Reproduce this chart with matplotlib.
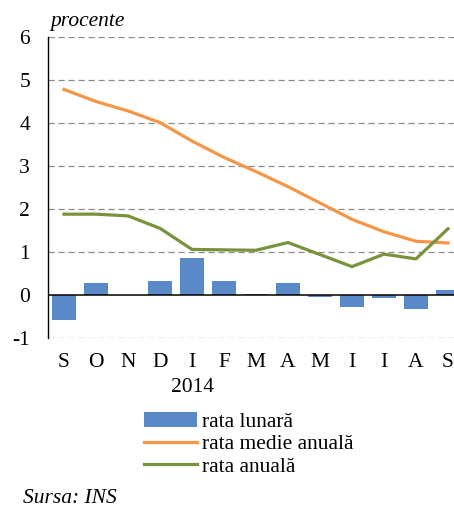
import matplotlib
matplotlib.use("Agg")
import matplotlib.pyplot as plt
from matplotlib.patches import Patch
from matplotlib.lines import Line2D

# Data
months = ['S', 'O', 'N', 'D', 'I', 'F', 'M', 'A', 'M', 'I', 'I', 'A', 'S']
rata_lunara = [-0.58, 0.29, 0.0, 0.33, 0.85, 0.33, 0.03, 0.27, -0.04, -0.28, -0.06, -0.32, 0.12]
rata_medie_anuala = [4.78, 4.50, 4.28, 4.01, 3.58, 3.20, 2.87, 2.52, 2.14, 1.76, 1.47, 1.25, 1.21]
rata_anuala = [1.88, 1.88, 1.84, 1.55, 1.06, 1.05, 1.04, 1.22, 0.94, 0.66, 0.95, 0.84, 1.54]

plt.rcParams['font.family'] = ['Liberation Serif', 'DejaVu Serif']
FS = 15.5

c_bar = '#5B89C8'
c_orange = '#F79646'
c_green = '#77933C'

fig = plt.figure(figsize=(4.54, 5.08), dpi=100)
W, H = 454, 508
ax = fig.add_axes([48 / W, 170 / H, 416 / W, 301 / H])

x = list(range(len(months)))
ax.bar(x, rata_lunara, width=0.75, color=c_bar, zorder=3)
ax.plot(x, rata_medie_anuala, color=c_orange, lw=2.3, zorder=4)
ax.plot(x, rata_anuala, color=c_green, lw=2.3, zorder=5)

ax.set_xlim(-0.5, len(months) - 0.5)
ax.set_ylim(-1, 6)
ax.set_yticks(range(-1, 7))
ax.set_yticklabels([str(v) for v in range(-1, 7)], fontsize=FS)
ax.set_xticks(x)
ax.set_xticklabels(months, fontsize=FS)
ax.tick_params(axis='y', length=0, pad=13)
ax.tick_params(axis='x', length=0, pad=11)

for v in range(-1, 7):
    if v != 0:
        ax.axhline(v, color='#8c8c8c', lw=0.9, ls=(0, (5, 3)), zorder=1)
ax.axhline(0, color='black', lw=1.1, zorder=6)

for s in ['top', 'right', 'bottom']:
    ax.spines[s].set_visible(False)
ax.spines['left'].set_linewidth(1.0)

ax.text(4, -2.14, '2014', ha='center', va='center', fontsize=FS, clip_on=False)

fig.text(50 / W, 1 - 26 / H, 'procente', fontsize=FS, style='italic', va='baseline')
fig.text(23 / W, 1 - 503 / H, 'Sursa: INS', fontsize=FS, style='italic', va='baseline')

handles = [Patch(facecolor=c_bar, edgecolor='none'),
           Line2D([], [], color=c_orange, lw=2.3),
           Line2D([], [], color=c_green, lw=2.3)]
labels = ['rata lunară', 'rata medie anuală', 'rata anuală']
fig.legend(handles, labels, loc='upper left', bbox_to_anchor=(144 / W, 1 - 412 / H),
           frameon=False, fontsize=FS, handlelength=2.45, handletextpad=0.25,
           labelspacing=0.1, borderpad=0, borderaxespad=0)

fig.savefig('out.png', dpi=100)
